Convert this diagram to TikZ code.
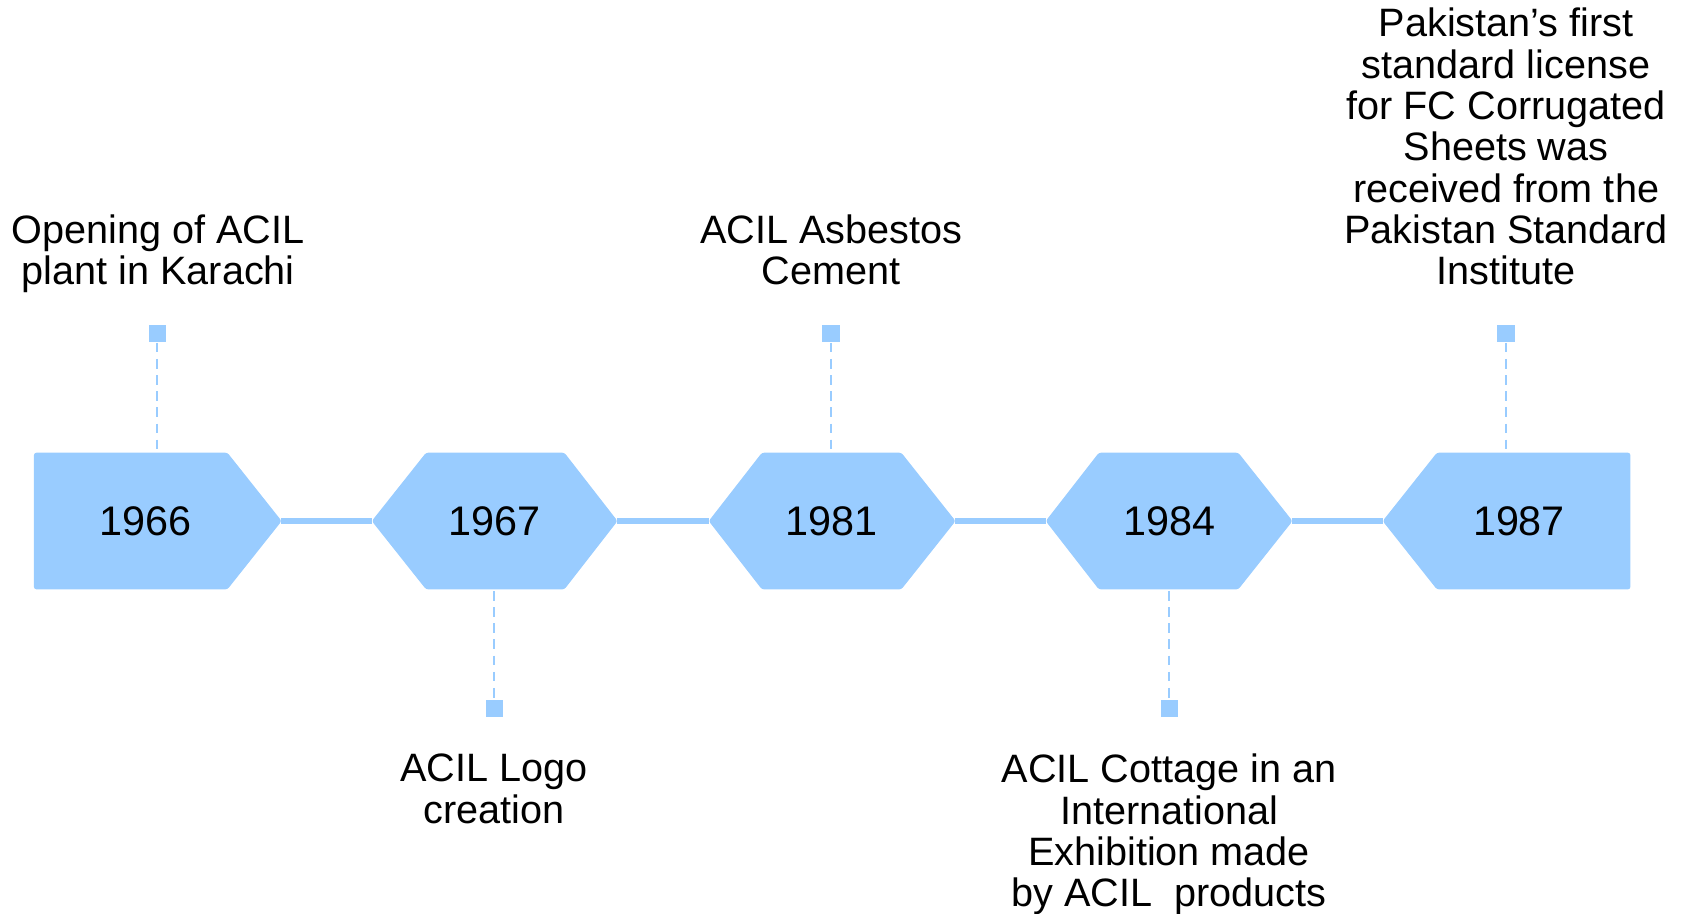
\documentclass[tikz,border=0pt]{standalone}
\usepackage{fontspec}
\setmainfont{Liberation Sans}
\definecolor{lb}{RGB}{153,204,255}
\begin{document}
\begin{tikzpicture}[x=0.5pt,y=-0.5pt,
  shapebox/.style={fill=lb, draw=lb, line width=0.5pt, rounded corners=1pt, line join=round},
  yeartext/.style={font=\fontsize{19.2}{22}\selectfont, inner sep=0pt, anchor=center},
  link/.style={draw=lb, line width=2.5pt},
  stem/.style={draw=lb, line width=1.2pt, dash pattern=on 4.5pt off 3pt},
  sq/.style={fill=lb, minimum size=8pt, inner sep=0pt},
  toplab/.style={font=\fontsize{18.4}{19.2}\selectfont, align=center, inner sep=0pt, anchor=south, text depth=0pt},
  botlab/.style={font=\fontsize{18.4}{19.2}\selectfont, align=center, inner sep=0pt, anchor=north}]
\useasboundingbox (0,0) rectangle (1568,849);
% tip coordinates
\coordinate (t1r) at (261,484);
\coordinate (t2l) at (346,484); \coordinate (t2r) at (573,484);
\coordinate (t3l) at (659,484); \coordinate (t3r) at (887,484);
\coordinate (t4l) at (972,484); \coordinate (t4r) at (1200,484);
\coordinate (t5l) at (1285,484);
% links
\draw[link] (t1r) -- (t2l);
\draw[link] (t2r) -- (t3l);
\draw[link] (t3r) -- (t4l);
\draw[link] (t4r) -- (t5l);
% shapes
\path[shapebox] (32,421) -- (211,421) -- (t1r) -- (211,547) -- (32,547) -- cycle;
\path[shapebox] (t2l) -- (396,421) -- (524,421) -- (t2r) -- (524,547) -- (396,547) -- cycle;
\path[shapebox] (t3l) -- (708,421) -- (837,421) -- (t3r) -- (837,547) -- (708,547) -- cycle;
\path[shapebox] (t4l) -- (1021,421) -- (1150,421) -- (t4r) -- (1150,547) -- (1021,547) -- cycle;
\path[shapebox] (t5l) -- (1335,421) -- (1514,421) -- (1514,547) -- (1335,547) -- cycle;
% years
\node[yeartext] (y1) at (135,484) {1966};
\node[yeartext] (y2) at (459,484) {1967};
\node[yeartext] (y3) at (772,484) {1981};
\node[yeartext] (y4) at (1086,484) {1984};
\node[yeartext] (y5) at (1411,484) {1987};
% stems and squares
\node[sq] (s1) at (146,310) {};
\node[sq] (s2) at (459,658) {};
\node[sq] (s3) at (772,310) {};
\node[sq] (s4) at (1086,658) {};
\node[sq] (s5) at (1399,310) {};
\coordinate (e1) at (146,419);
\coordinate (e2) at (459,549);
\coordinate (e3) at (772,419);
\coordinate (e4) at (1086,549);
\coordinate (e5) at (1399,419);
\draw[stem] (s1.south) -- (e1);
\draw[stem] (e2) -- (s2.north);
\draw[stem] (s3.south) -- (e3);
\draw[stem] (e4) -- (s4.north);
\draw[stem] (s5.south) -- (e5);
% labels
\node[toplab] (l1) at (147,265) {Opening of ACIL\\plant in Karachi};
\node[botlab] (l2) at (459,700) {ACIL Logo\\creation};
\node[toplab] (l3) at (772,265) {ACIL Asbestos\\Cement};
\node[botlab] (l4) at (1086,700) {ACIL Cottage in an\\International\\Exhibition made\\by ACIL\ \ products};
\node[toplab] (l5) at (1399,265) {Pakistan’s first\\standard license\\for FC Corrugated\\Sheets was\\received from the\\Pakistan Standard\\Institute};
\end{tikzpicture}
\end{document}
